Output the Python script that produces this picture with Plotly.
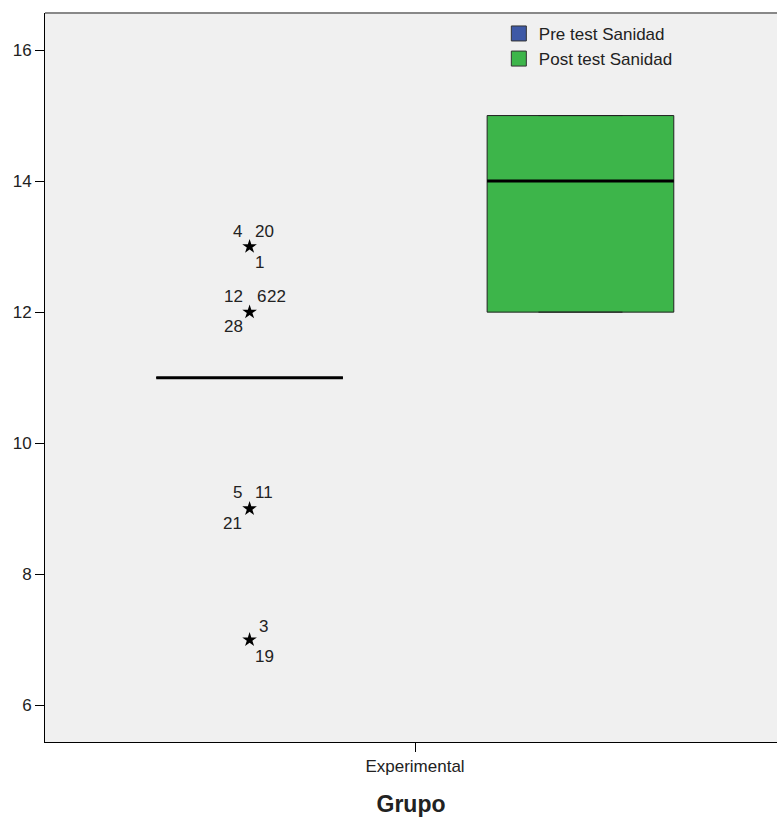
import plotly.graph_objects as go

# ---- data ----
group_label = ["Experimental"]
series_names = ["Pre test Sanidad", "Post test Sanidad"]
series_colors = ["#3E59A6", "#3DB54A"]
# box statistics: [Pre, Post]
q1 = [11, 12]
median = [11, 14]
q3 = [11, 15]
lower_fence = [11, 12]
upper_fence = [11, 15]
# extreme values (Pre test) with case numbers
outlier_values = [13, 12, 9, 7]
outlier_cases = [["4", "20", "1"], ["12", "6", "22", "28"], ["5", "11", "21"], ["3", "19"]]

# ---- layout constants ----
offsets = [-0.226, 0.226]
box_w = 0.255
label_shifts = {
    13: [(-12, 15), (15, 15), (10, -16)],
    12: [(-16, 16), (12, 16), (27, 16), (-16, -14)],
    9: [(-12, 16), (14, 16), (-17, -15)],
    7: [(14, 13), (15, -17)],
}
FONT = "Liberation Sans, Arial"

fig = go.Figure()

for i, name in enumerate(series_names):
    fig.add_trace(go.Box(
        name=name,
        x=[offsets[i]],
        q1=[q1[i]], median=[median[i]], q3=[q3[i]],
        lowerfence=[lower_fence[i]], upperfence=[upper_fence[i]],
        width=box_w,
        whiskerwidth=0.45,
        fillcolor=series_colors[i],
        line=dict(color="#222", width=1),
        boxpoints=False,
        showlegend=False,
        hoverinfo="skip",
    ))
    # thicker median line
    fig.add_trace(go.Scatter(
        x=[offsets[i] - box_w / 2, offsets[i] + box_w / 2],
        y=[median[i], median[i]],
        mode="lines", line=dict(color="black", width=3),
        showlegend=False, hoverinfo="skip",
    ))

# legend entries (square swatches)
for i, name in enumerate(series_names):
    fig.add_trace(go.Scatter(
        name=name, x=[None], y=[None], mode="markers",
        marker=dict(symbol="square", size=15, color=series_colors[i],
                    line=dict(color="#333", width=1)),
        showlegend=True, hoverinfo="skip",
    ))

# extreme values
fig.add_trace(go.Scatter(
    x=[offsets[0]] * len(outlier_values), y=outlier_values,
    mode="markers", marker=dict(symbol="star", size=11, color="black"),
    showlegend=False, hoverinfo="skip",
))
for val, cases in zip(outlier_values, outlier_cases):
    for case, (dx, dy) in zip(cases, label_shifts[val]):
        fig.add_annotation(x=offsets[0], y=val, text=case, showarrow=False,
                           xshift=dx, yshift=dy,
                           font=dict(family=FONT, size=17, color="#222"))

fig.update_layout(
    width=777, height=821,
    margin=dict(l=45, r=0, t=13, b=79, autoexpand=False),
    paper_bgcolor="white", plot_bgcolor="#F0F0F0",
    boxmode="overlay",
    font=dict(family=FONT, size=17, color="#222"),
    legend=dict(x=0.62, y=0.996, xanchor="left", yanchor="top",
                bgcolor="rgba(0,0,0,0)", font=dict(size=17),
                tracegroupgap=0, itemsizing="trace"),
    showlegend=True,
)
fig.update_xaxes(
    range=[-0.5055, 0.4945],
    tickvals=[0], ticktext=group_label,
    ticks="outside", ticklen=9, tickcolor="black",
    showgrid=False, zeroline=False,
    showline=True, linecolor="black", linewidth=1,
    tickfont=dict(size=17),
    title=dict(text="<b>Grupo</b>", font=dict(size=23), standoff=20),
)
fig.update_yaxes(
    range=[5.44, 16.565],
    tickvals=[6, 8, 10, 12, 14, 16],
    ticks="outside", ticklen=9, tickcolor="black",
    showgrid=False, zeroline=False,
    showline=True, linecolor="black", linewidth=1,
    tickfont=dict(size=17),
)
# top border of the plot frame
fig.add_shape(type="line", xref="paper", yref="paper", x0=0, x1=1, y0=1, y1=1,
              line=dict(color="#888", width=2))

fig.write_html("out.html", config={"displayModeBar": False},
               post_script="document.body.style.margin='0';")
